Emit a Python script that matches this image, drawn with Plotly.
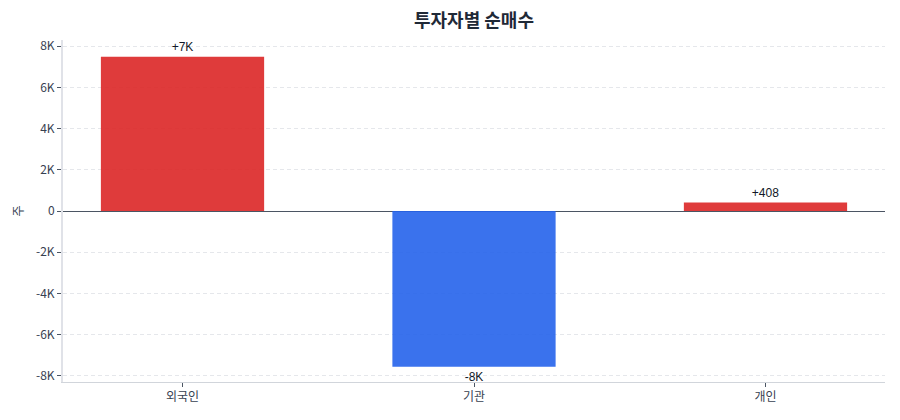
import plotly.graph_objects as go

investors = ["외국인", "기관", "개인"]
net_buy = [7490, -7560, 408]
labels = ["+7K", "-8K", "+408"]
bar_colors = ["#dc2626", "#2563eb", "#dc2626"]

y_ticks = [-8000, -6000, -4000, -2000, 0, 2000, 4000, 6000, 8000]
y_tick_text = ["-8K", "-6K", "-4K", "-2K", "0", "2K", "4K", "6K", "8K"]

fig = go.Figure()

fig.add_bar(
    x=investors,
    y=net_buy,
    text=labels,
    textposition="outside",
    textfont=dict(family="Liberation Sans, Arial", size=12, color="#111827"),
    marker=dict(color=bar_colors, opacity=0.9, line=dict(width=0)),
    width=0.56,
    cliponaxis=False,
    showlegend=False,
)

fig.update_layout(
    title=dict(
        text="<b>투자자별 순매수</b>",
        x=0.5, xref="paper", xanchor="center",
        y=0.95, yref="container", yanchor="middle",
        font=dict(family="Noto Sans CJK KR", size=18, color="#1f2937"),
    ),
    font=dict(family="Noto Sans CJK KR, Noto Sans", size=12, color="#374151"),
    plot_bgcolor="white",
    paper_bgcolor="white",
    margin=dict(l=63, r=15, t=40, b=38),
    width=900,
    height=420,
)

fig.update_xaxes(
    range=[-0.41, 2.41],
    showline=True, linecolor="#d1d5db", linewidth=1,
    ticks="outside", ticklen=4, tickcolor="#4b5563",
    showgrid=False,
    tickfont=dict(size=12, color="#374151"),
)

fig.update_yaxes(
    range=[-8300, 8300],
    tickvals=y_ticks,
    ticktext=y_tick_text,
    title=dict(text="주", standoff=10, font=dict(size=12, color="#374151")),
    showline=True, linecolor="#e0e2e8", linewidth=2,
    ticks="outside", ticklen=4, tickcolor="#4b5563",
    showgrid=True, gridcolor="#e5e7eb", griddash="4px,3px", gridwidth=1,
    zeroline=True, zerolinecolor="#4b5563", zerolinewidth=1,
    tickfont=dict(size=12, color="#374151"),
)

# page has a default 8px body margin; drop it so the chart sits at 0,0
fig.write_html(
    "out.html",
    config={"displayModeBar": False},
    post_script="document.body.style.margin='0';",
)
